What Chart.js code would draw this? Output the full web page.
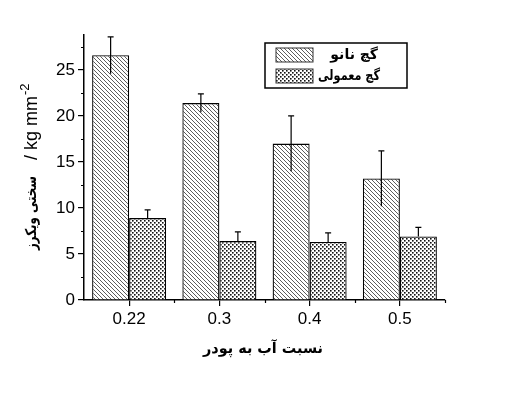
<!DOCTYPE html>
<html>
<head>
<meta charset="utf-8">
<script src="https://cdn.jsdelivr.net/npm/chart.js@4.4.1/dist/chart.umd.min.js"></script>
<style>
  html, body { margin: 0; padding: 0; background: #fff; }
  #wrap { width: 516px; height: 395px; position: relative; }
</style>
</head>
<body>
<div id="wrap"><canvas id="myChart" width="516" height="395"></canvas></div>
<script>
// datos del gráfico
var categories = ['0.22', '0.3', '0.4', '0.5'];
var nanoValues = [26.6, 21.4, 17.0, 13.2];
var nanoErrors = [2.0, 1.0, 3.0, 3.0];
var normalValues = [8.9, 6.4, 6.3, 6.9];
var normalErrors = [0.9, 1.0, 1.0, 1.0];
var yTicks = [0, 5, 10, 15, 20, 25];
var yMinorTicks = [2.5, 7.5, 12.5, 17.5, 22.5, 27.5];

var nanoLabel = 'گچ نانو';
var normalLabel = 'گچ معمولی';
var xTitle = 'نسبت آب به پودر';
var yTitleFa = 'سختی ویکرز';
var yTitleEn = '/ kg mm';

// patrones de relleno
function hatchPattern() {
    var c = document.createElement('canvas');
    c.width = 4; c.height = 4;
    var g = c.getContext('2d');
    g.fillStyle = '#fff';
    g.fillRect(0, 0, 4, 4);
    g.strokeStyle = '#333';
    g.lineWidth = 0.8;
    g.beginPath();
    g.moveTo(-1, -1); g.lineTo(5, 5);
    g.moveTo(-1, 3); g.lineTo(1, 5);
    g.moveTo(3, -1); g.lineTo(5, 1);
    g.stroke();
    return g.createPattern(c, 'repeat');
}

function dotPattern() {
    var c = document.createElement('canvas');
    c.width = 4; c.height = 4;
    var g = c.getContext('2d');
    g.fillStyle = '#fff';
    g.fillRect(0, 0, 4, 4);
    g.fillStyle = '#111';
    g.fillRect(0, 0, 1.6, 1.6);
    g.fillRect(2, 2, 1.6, 1.6);
    return g.createPattern(c, 'repeat');
}

var nanoFill = hatchPattern();
var normalFill = dotPattern();

// barras de error, ticks menores, leyenda y títulos
var extrasPlugin = {
    id: 'extras',
    afterDatasetsDraw: function(chart) {
        var ctx = chart.ctx;
        var ys = chart.scales.y;
        var errs = [nanoErrors, normalErrors];
        ctx.save();
        ctx.strokeStyle = '#000';
        ctx.lineWidth = 1.2;
        chart.data.datasets.forEach(function(ds, i) {
            var meta = chart.getDatasetMeta(i);
            meta.data.forEach(function(bar, j) {
                var v = ds.data[j];
                var top = ys.getPixelForValue(v + errs[i][j]);
                var bot = ys.getPixelForValue(v - errs[i][j]);
                var base = ys.getPixelForValue(v);
                ctx.beginPath();
                ctx.moveTo(bar.x, top);
                ctx.lineTo(bar.x, i === 0 ? bot : base);
                ctx.moveTo(bar.x - 3, top);
                ctx.lineTo(bar.x + 3, top);
                ctx.stroke();
            });
        });
        ctx.restore();
    },
    afterDraw: function(chart) {
        var ctx = chart.ctx;
        var ys = chart.scales.y;
        var xs = chart.scales.x;
        var area = chart.chartArea;
        ctx.save();
        ctx.strokeStyle = '#000';
        ctx.lineWidth = 1.2;
        // ticks menores
        ctx.beginPath();
        yMinorTicks.forEach(function(v) {
            var py = Math.round(ys.getPixelForValue(v)) + 0.5;
            ctx.moveTo(area.left - 3, py);
            ctx.lineTo(area.left, py);
        });
        for (var k = 0; k < categories.length; k++) {
            var px = Math.round(xs.getPixelForValue(k + 0.5)) + 0.5;
            ctx.moveTo(px, area.bottom);
            ctx.lineTo(px, area.bottom + 3);
        }
        ctx.stroke();

        // leyenda
        ctx.lineWidth = 1.5;
        ctx.strokeRect(265, 43, 142, 45);
        ctx.fillStyle = nanoFill;
        ctx.fillRect(276, 48, 37, 14);
        ctx.strokeStyle = '#333';
        ctx.lineWidth = 1;
        ctx.strokeRect(276, 48, 37, 14);
        ctx.fillStyle = normalFill;
        ctx.fillRect(276, 69, 37, 14);
        ctx.strokeRect(276, 69, 37, 14);
        ctx.fillStyle = '#000';
        ctx.font = 'bold 14px "DejaVu Sans"';
        ctx.textAlign = 'right';
        ctx.textBaseline = 'middle';
        ctx.fillText(nanoLabel, 378, 55, 48);
        ctx.fillText(normalLabel, 380, 76, 62);

        // título eje x
        ctx.textAlign = 'center';
        ctx.font = 'bold 15px "DejaVu Sans"';
        ctx.fillText(xTitle, 263, 349, 120);

        // título eje y (rotado)
        ctx.translate(32, 162);
        ctx.rotate(-Math.PI / 2);
        ctx.font = 'bold 15px "DejaVu Sans"';
        ctx.textAlign = 'center';
        ctx.fillText(yTitleFa, -51, 0, 74);
        ctx.font = '18px "Liberation Sans"';
        ctx.textAlign = 'left';
        ctx.fillText(yTitleEn, 2, 0);
        var w = ctx.measureText(yTitleEn).width;
        ctx.font = '13px "Liberation Sans"';
        ctx.fillText('-2', 2 + w + 1, -7);
        ctx.restore();
    }
};

var ctx = document.getElementById('myChart').getContext('2d');
var myChart = new Chart(ctx, {
    type: 'bar',
    data: {
        labels: categories,
        datasets: [{
            label: nanoLabel,
            data: nanoValues,
            backgroundColor: nanoFill,
            borderColor: '#000',
            borderWidth: 1.3,
            borderSkipped: 'bottom'
        }, {
            label: normalLabel,
            data: normalValues,
            backgroundColor: normalFill,
            borderColor: '#000',
            borderWidth: 1.3,
            borderSkipped: 'bottom'
        }]
    },
    options: {
        responsive: false,
        animation: false,
        devicePixelRatio: 1,
        layout: { padding: { top: 35, right: 71, left: 0, bottom: 0 } },
        categoryPercentage: 0.82,
        barPercentage: 1,
        plugins: {
            legend: { display: false },
            tooltip: { enabled: false }
        },
        scales: {
            x: {
                offset: true,
                grid: { display: true, drawOnChartArea: false, offset: false, tickLength: 6, color: '#000', lineWidth: 1.2 },
                border: { display: true, color: '#000', width: 1.5 },
                ticks: { color: '#000', font: { family: 'Liberation Sans', size: 17 }, padding: 3, maxRotation: 0 },
                afterFit: function(scale) { scale.height = 95; }
            },
            y: {
                min: 0,
                max: 28.8,
                afterBuildTicks: function(scale) {
                    scale.ticks = yTicks.map(function(v) { return { value: v }; });
                },
                grid: { display: true, drawOnChartArea: false, tickLength: 6, color: '#000', lineWidth: 1.2 },
                border: { display: true, color: '#000', width: 1.5 },
                ticks: { color: '#000', font: { family: 'Liberation Sans', size: 17 }, padding: 3 },
                afterFit: function(scale) { scale.width = 84; }
            }
        }
    },
    plugins: [extrasPlugin]
});
</script>
</body>
</html>
